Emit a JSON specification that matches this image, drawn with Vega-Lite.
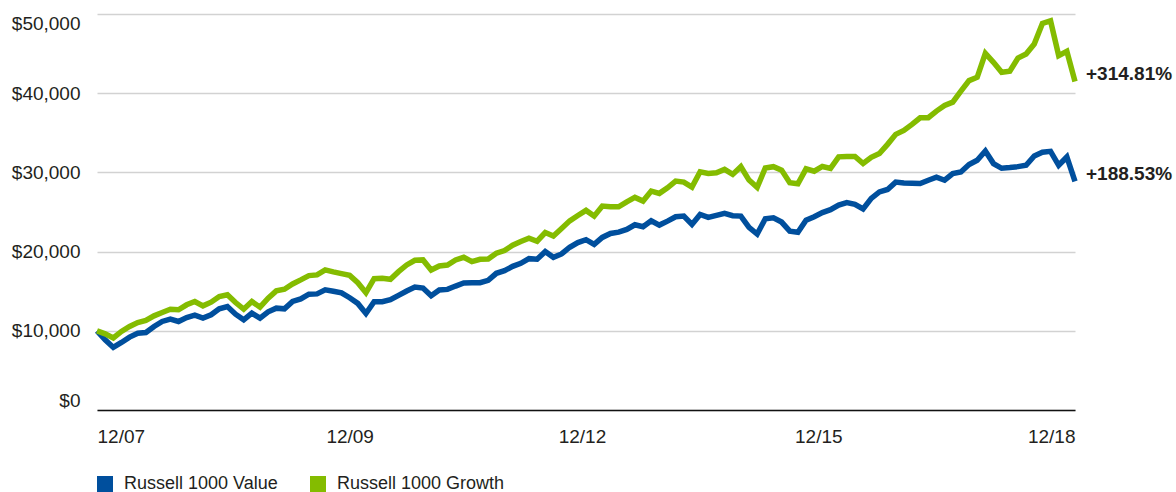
{
  "$schema": "https://vega.github.io/schema/vega-lite/v6.json",
  "width": 978,
  "height": 396,
  "autosize": "none",
  "padding": {"left": 97, "top": 14, "right": 101, "bottom": 82},
  "background": "white",
  "config": {
    "view": {"stroke": null},
    "font": "Liberation Sans"
  },
  "datasets": {
    "series": [
      {"i":0,"Russell 1000 Value":10000,"Russell 1000 Growth":10000},
      {"i":1,"Russell 1000 Value":8870,"Russell 1000 Growth":9620},
      {"i":2,"Russell 1000 Value":7900,"Russell 1000 Growth":9100},
      {"i":3,"Russell 1000 Value":8530,"Russell 1000 Growth":9920},
      {"i":4,"Russell 1000 Value":9200,"Russell 1000 Growth":10550},
      {"i":5,"Russell 1000 Value":9700,"Russell 1000 Growth":11050},
      {"i":6,"Russell 1000 Value":9790,"Russell 1000 Growth":11300},
      {"i":7,"Russell 1000 Value":10550,"Russell 1000 Growth":11890},
      {"i":8,"Russell 1000 Value":11180,"Russell 1000 Growth":12310},
      {"i":9,"Russell 1000 Value":11470,"Russell 1000 Growth":12730},
      {"i":10,"Russell 1000 Value":11180,"Russell 1000 Growth":12650},
      {"i":11,"Russell 1000 Value":11680,"Russell 1000 Growth":13280},
      {"i":12,"Russell 1000 Value":11970,"Russell 1000 Growth":13700},
      {"i":13,"Russell 1000 Value":11600,"Russell 1000 Growth":13150},
      {"i":14,"Russell 1000 Value":12020,"Russell 1000 Growth":13610},
      {"i":15,"Russell 1000 Value":12770,"Russell 1000 Growth":14330},
      {"i":16,"Russell 1000 Value":13070,"Russell 1000 Growth":14540},
      {"i":17,"Russell 1000 Value":12100,"Russell 1000 Growth":13570},
      {"i":18,"Russell 1000 Value":11390,"Russell 1000 Growth":12730},
      {"i":19,"Russell 1000 Value":12230,"Russell 1000 Growth":13700},
      {"i":20,"Russell 1000 Value":11600,"Russell 1000 Growth":12980},
      {"i":21,"Russell 1000 Value":12390,"Russell 1000 Growth":14120},
      {"i":22,"Russell 1000 Value":12860,"Russell 1000 Growth":15040},
      {"i":23,"Russell 1000 Value":12770,"Russell 1000 Growth":15250},
      {"i":24,"Russell 1000 Value":13700,"Russell 1000 Growth":15920},
      {"i":25,"Russell 1000 Value":14030,"Russell 1000 Growth":16430},
      {"i":26,"Russell 1000 Value":14620,"Russell 1000 Growth":16970},
      {"i":27,"Russell 1000 Value":14660,"Russell 1000 Growth":17060},
      {"i":28,"Russell 1000 Value":15170,"Russell 1000 Growth":17690},
      {"i":29,"Russell 1000 Value":15000,"Russell 1000 Growth":17440},
      {"i":30,"Russell 1000 Value":14800,"Russell 1000 Growth":17220},
      {"i":31,"Russell 1000 Value":14170,"Russell 1000 Growth":17000},
      {"i":32,"Russell 1000 Value":13460,"Russell 1000 Growth":16080},
      {"i":33,"Russell 1000 Value":12190,"Russell 1000 Growth":14810},
      {"i":34,"Russell 1000 Value":13670,"Russell 1000 Growth":16580},
      {"i":35,"Russell 1000 Value":13670,"Russell 1000 Growth":16620},
      {"i":36,"Russell 1000 Value":13920,"Russell 1000 Growth":16500},
      {"i":37,"Russell 1000 Value":14470,"Russell 1000 Growth":17470},
      {"i":38,"Russell 1000 Value":15020,"Russell 1000 Growth":18310},
      {"i":39,"Russell 1000 Value":15530,"Russell 1000 Growth":18900},
      {"i":40,"Russell 1000 Value":15400,"Russell 1000 Growth":18950},
      {"i":41,"Russell 1000 Value":14430,"Russell 1000 Growth":17680},
      {"i":42,"Russell 1000 Value":15150,"Russell 1000 Growth":18190},
      {"i":43,"Russell 1000 Value":15230,"Russell 1000 Growth":18310},
      {"i":44,"Russell 1000 Value":15650,"Russell 1000 Growth":18950},
      {"i":45,"Russell 1000 Value":16030,"Russell 1000 Growth":19280},
      {"i":46,"Russell 1000 Value":16080,"Russell 1000 Growth":18730},
      {"i":47,"Russell 1000 Value":16080,"Russell 1000 Growth":19030},
      {"i":48,"Russell 1000 Value":16370,"Russell 1000 Growth":19070},
      {"i":49,"Russell 1000 Value":17260,"Russell 1000 Growth":19790},
      {"i":50,"Russell 1000 Value":17590,"Russell 1000 Growth":20130},
      {"i":51,"Russell 1000 Value":18140,"Russell 1000 Growth":20800},
      {"i":52,"Russell 1000 Value":18520,"Russell 1000 Growth":21270},
      {"i":53,"Russell 1000 Value":19110,"Russell 1000 Growth":21690},
      {"i":54,"Russell 1000 Value":19030,"Russell 1000 Growth":21310},
      {"i":55,"Russell 1000 Value":20000,"Russell 1000 Growth":22410},
      {"i":56,"Russell 1000 Value":19280,"Russell 1000 Growth":21980},
      {"i":57,"Russell 1000 Value":19700,"Russell 1000 Growth":22910},
      {"i":58,"Russell 1000 Value":20550,"Russell 1000 Growth":23880},
      {"i":59,"Russell 1000 Value":21140,"Russell 1000 Growth":24560},
      {"i":60,"Russell 1000 Value":21500,"Russell 1000 Growth":25200},
      {"i":61,"Russell 1000 Value":20910,"Russell 1000 Growth":24480},
      {"i":62,"Russell 1000 Value":21790,"Russell 1000 Growth":25750},
      {"i":63,"Russell 1000 Value":22290,"Russell 1000 Growth":25660},
      {"i":64,"Russell 1000 Value":22460,"Russell 1000 Growth":25660},
      {"i":65,"Russell 1000 Value":22800,"Russell 1000 Growth":26290},
      {"i":66,"Russell 1000 Value":23390,"Russell 1000 Growth":26840},
      {"i":67,"Russell 1000 Value":23140,"Russell 1000 Growth":26380},
      {"i":68,"Russell 1000 Value":23890,"Russell 1000 Growth":27640},
      {"i":69,"Russell 1000 Value":23350,"Russell 1000 Growth":27350},
      {"i":70,"Russell 1000 Value":23850,"Russell 1000 Growth":28060},
      {"i":71,"Russell 1000 Value":24400,"Russell 1000 Growth":28910},
      {"i":72,"Russell 1000 Value":24480,"Russell 1000 Growth":28780},
      {"i":73,"Russell 1000 Value":23430,"Russell 1000 Growth":28150},
      {"i":74,"Russell 1000 Value":24690,"Russell 1000 Growth":30080},
      {"i":75,"Russell 1000 Value":24320,"Russell 1000 Growth":29870},
      {"i":76,"Russell 1000 Value":24570,"Russell 1000 Growth":29960},
      {"i":77,"Russell 1000 Value":24820,"Russell 1000 Growth":30380},
      {"i":78,"Russell 1000 Value":24530,"Russell 1000 Growth":29750},
      {"i":79,"Russell 1000 Value":24480,"Russell 1000 Growth":30720},
      {"i":80,"Russell 1000 Value":23050,"Russell 1000 Growth":29030},
      {"i":81,"Russell 1000 Value":22210,"Russell 1000 Growth":28110},
      {"i":82,"Russell 1000 Value":24150,"Russell 1000 Growth":30550},
      {"i":83,"Russell 1000 Value":24270,"Russell 1000 Growth":30720},
      {"i":84,"Russell 1000 Value":23730,"Russell 1000 Growth":30290},
      {"i":85,"Russell 1000 Value":22580,"Russell 1000 Growth":28700},
      {"i":86,"Russell 1000 Value":22450,"Russell 1000 Growth":28570},
      {"i":87,"Russell 1000 Value":23950,"Russell 1000 Growth":30450},
      {"i":88,"Russell 1000 Value":24400,"Russell 1000 Growth":30150},
      {"i":89,"Russell 1000 Value":24930,"Russell 1000 Growth":30750},
      {"i":90,"Russell 1000 Value":25290,"Russell 1000 Growth":30500},
      {"i":91,"Russell 1000 Value":25880,"Russell 1000 Growth":31960},
      {"i":92,"Russell 1000 Value":26180,"Russell 1000 Growth":32000},
      {"i":93,"Russell 1000 Value":25970,"Russell 1000 Growth":32020},
      {"i":94,"Russell 1000 Value":25380,"Russell 1000 Growth":31120},
      {"i":95,"Russell 1000 Value":26720,"Russell 1000 Growth":31900},
      {"i":96,"Russell 1000 Value":27540,"Russell 1000 Growth":32380},
      {"i":97,"Russell 1000 Value":27850,"Russell 1000 Growth":33540},
      {"i":98,"Russell 1000 Value":28770,"Russell 1000 Growth":34800},
      {"i":99,"Russell 1000 Value":28650,"Russell 1000 Growth":35300},
      {"i":100,"Russell 1000 Value":28640,"Russell 1000 Growth":36060},
      {"i":101,"Russell 1000 Value":28600,"Russell 1000 Growth":36900},
      {"i":102,"Russell 1000 Value":29010,"Russell 1000 Growth":36900},
      {"i":103,"Russell 1000 Value":29390,"Russell 1000 Growth":37740},
      {"i":104,"Russell 1000 Value":29010,"Russell 1000 Growth":38450},
      {"i":105,"Russell 1000 Value":29850,"Russell 1000 Growth":38870},
      {"i":106,"Russell 1000 Value":30060,"Russell 1000 Growth":40250},
      {"i":107,"Russell 1000 Value":30990,"Russell 1000 Growth":41590},
      {"i":108,"Russell 1000 Value":31530,"Russell 1000 Growth":42010},
      {"i":109,"Russell 1000 Value":32700,"Russell 1000 Growth":45030},
      {"i":110,"Russell 1000 Value":31110,"Russell 1000 Growth":43900},
      {"i":111,"Russell 1000 Value":30520,"Russell 1000 Growth":42640},
      {"i":112,"Russell 1000 Value":30610,"Russell 1000 Growth":42770},
      {"i":113,"Russell 1000 Value":30730,"Russell 1000 Growth":44440},
      {"i":114,"Russell 1000 Value":30900,"Russell 1000 Growth":44950},
      {"i":115,"Russell 1000 Value":32080,"Russell 1000 Growth":46210},
      {"i":116,"Russell 1000 Value":32540,"Russell 1000 Growth":48810},
      {"i":117,"Russell 1000 Value":32660,"Russell 1000 Growth":49140},
      {"i":118,"Russell 1000 Value":30900,"Russell 1000 Growth":44740},
      {"i":119,"Russell 1000 Value":31950,"Russell 1000 Growth":45280},
      {"i":120,"Russell 1000 Value":28853,"Russell 1000 Growth":41481}
    ],
    "ends": [
      {"i":120,"v":41481,"label":"+314.81%"},
      {"i":120,"v":28853,"label":"+188.53%"}
    ]
  },
  "layer": [
    {
      "data": {"name": "series"},
      "transform": [{"fold": ["Russell 1000 Value", "Russell 1000 Growth"], "as": ["index", "value"]}],
      "mark": {"type": "line", "strokeWidth": 5.5, "strokeJoin": "miter", "strokeCap": "butt"},
      "encoding": {
        "x": {
          "field": "i", "type": "quantitative",
          "scale": {"domain": [0, 120], "nice": false, "zero": false},
          "axis": {
            "title": null, "values": [0, 31, 59.5, 88.5, 120],
            "labelExpr": "datum.value == 0 ? '12/07' : datum.value == 31 ? '12/09' : datum.value == 59.5 ? '12/12' : datum.value == 88.5 ? '12/15' : '12/18'",
            "grid": false, "ticks": false, "tickSize": 0,
            "domain": true, "domainColor": "#111111", "domainWidth": 1.6,
            "labelFlush": true, "labelPadding": 17, "labelFontSize": 19,
            "labelColor": "#231f20", "zindex": 1
          }
        },
        "y": {
          "field": "value", "type": "quantitative",
          "scale": {"domain": [0, 50000], "nice": false},
          "axis": {
            "title": null, "values": [0, 10000, 20000, 30000, 40000, 50000],
            "format": "$,.0f", "grid": true, "gridColor": "#d2d2d2", "gridWidth": 1.6,
            "domain": false, "ticks": false, "tickSize": 0,
            "labelFlush": true, "labelPadding": 17, "labelFontSize": 19,
            "labelColor": "#231f20"
          }
        },
        "color": {
          "field": "index", "type": "nominal",
          "scale": {"domain": ["Russell 1000 Value", "Russell 1000 Growth"], "range": ["#004f9d", "#84bc00"]},
          "legend": {
            "title": null, "orient": "none", "legendX": -1, "legendY": 461,
            "direction": "horizontal", "symbolType": "square", "symbolSize": 256,
            "symbolStrokeWidth": 0, "labelFontSize": 18, "labelOffset": 10,
            "labelLimit": 400, "columnPadding": 31, "labelColor": "#231f20",
            "encode": {"symbols": {"update": {"fill": {"scale": "color", "field": "value"}, "fillOpacity": {"value": 1}}}}
          }
        }
      }
    },
    {
      "data": {"name": "ends"},
      "mark": {"type": "text", "align": "left", "baseline": "middle", "dx": 11, "dy": -7, "fontSize": 19, "fontWeight": "bold", "color": "#231f20"},
      "encoding": {
        "x": {"field": "i", "type": "quantitative"},
        "y": {"field": "v", "type": "quantitative"},
        "text": {"field": "label"}
      }
    }
  ]
}
